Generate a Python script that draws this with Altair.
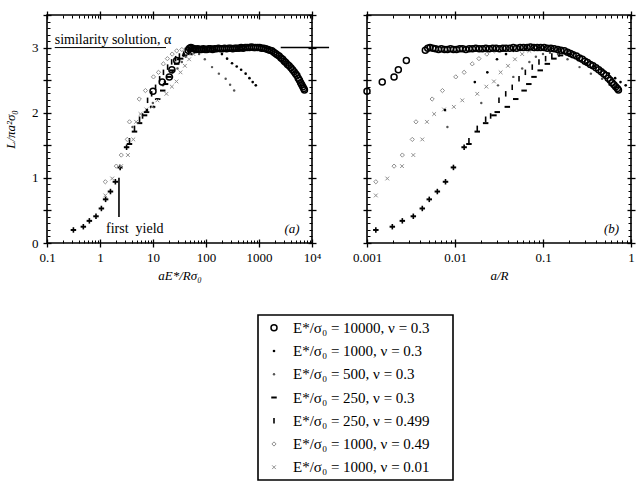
import altair as alt
import pandas as pd

SERIF = "Liberation Serif"

# ---------------- data (x is a/R, y is L/(pi a^2 sigma0)) ----------------
series_names = ["E10000_v0.3", "E1000_v0.3", "E500_v0.3", "E250_v0.3", "E250_v0.499", "E1000_v0.49", "E1000_v0.01"]
E_ratio = [10000, 1000, 500, 250, 250, 1000, 1000]
legend_labels = ["E*/σ₀ = 10000,  ν = 0.3", "E*/σ₀ = 1000,  ν = 0.3", "E*/σ₀ = 500,  ν = 0.3",
                 "E*/σ₀ = 250,  ν = 0.3", "E*/σ₀ = 250,  ν = 0.499", "E*/σ₀ = 1000,  ν = 0.49",
                 "E*/σ₀ = 1000,  ν = 0.01"]

aR_10000 = [0.001, 0.00149, 0.00203, 0.00227, 0.0028, 0.0046, 0.0049, 0.0052, 0.0056, 0.006, 0.0065, 0.007,
            0.0076, 0.0082, 0.0089, 0.0096, 0.0104, 0.0113, 0.0122, 0.0133, 0.0145, 0.0158, 0.0172, 0.0188,
            0.0205, 0.0224, 0.0245, 0.0268, 0.0293, 0.032, 0.035, 0.038, 0.042, 0.046, 0.05, 0.055, 0.06,
            0.066, 0.072, 0.079, 0.086, 0.094, 0.103, 0.112, 0.123, 0.134, 0.147, 0.16, 0.175, 0.19, 0.205,
            0.22, 0.24, 0.26, 0.28, 0.3, 0.32, 0.345, 0.37, 0.4, 0.43, 0.46, 0.49, 0.52, 0.55, 0.58, 0.61,
            0.64, 0.67, 0.7, 0.72]
L_10000 = [2.33, 2.47, 2.55, 2.66, 2.80, 2.96, 2.99, 3.0, 2.99, 2.98, 2.97, 2.98,
           2.97, 2.97, 2.98, 2.97, 2.97, 2.98, 2.98, 2.97, 2.98, 2.98, 2.99, 2.98,
           2.98, 2.99, 2.98, 2.99, 2.99, 2.98, 2.99, 2.99, 2.99, 3.0, 2.99, 3.0, 3.0,
           3.0, 3.01, 3.0, 3.0, 3.0, 3.0, 2.99, 2.99, 2.98, 2.97, 2.96, 2.95, 2.93, 2.91,
           2.89, 2.87, 2.84, 2.82, 2.79, 2.77, 2.74, 2.72, 2.69, 2.66, 2.63, 2.6, 2.57, 2.53, 2.5, 2.46,
           2.43, 2.4, 2.37, 2.35]

aR_1000 = [0.0077, 0.0168, 0.0233, 0.030, 0.038, 0.046, 0.055, 0.065, 0.078, 0.09, 0.105, 0.125, 0.15,
           0.2, 0.25, 0.31, 0.38, 0.46, 0.56, 0.66, 0.76, 0.87]
L_1000 = [2.04, 2.47, 2.62, 2.82, 2.9, 2.95, 2.97, 2.99, 3.0, 3.0, 3.0, 2.99, 2.97,
          2.9, 2.83, 2.76, 2.71, 2.66, 2.6, 2.53, 2.47, 2.42]

aR_500 = [0.0082, 0.0199, 0.0308, 0.046, 0.058, 0.07, 0.083, 0.1, 0.12, 0.148, 0.19, 0.26, 0.35, 0.47, 0.57, 0.68]
L_500 = [1.78, 2.15, 2.42, 2.55, 2.68, 2.78, 2.86, 2.9, 2.92, 2.9, 2.82, 2.7, 2.6, 2.52, 2.43, 2.34]

aR_250a = [0.00126, 0.00194, 0.00252, 0.00336, 0.00425, 0.0051, 0.0063, 0.0078, 0.0096, 0.0127, 0.0144,
           0.0179, 0.0223, 0.0277, 0.0302, 0.0393, 0.049, 0.061, 0.069, 0.079, 0.093, 0.112, 0.133, 0.158, 0.2]
L_250a = [0.2, 0.25, 0.34, 0.41, 0.53, 0.67, 0.79, 0.94, 1.16, 1.47, 1.52,
          1.71, 1.84, 1.96, 2.01, 2.09, 2.21, 2.34, 2.44, 2.55, 2.65, 2.75, 2.83, 2.88, 2.9]

aR_250b = [0.00126, 0.00194, 0.00252, 0.00336, 0.00425, 0.0051, 0.0063, 0.0078, 0.0096, 0.0127, 0.0144,
           0.0179, 0.0223, 0.0254, 0.0316, 0.0377, 0.0447, 0.0534, 0.063, 0.0755, 0.09, 0.107, 0.126, 0.152, 0.189]
L_250b = [0.2, 0.25, 0.34, 0.41, 0.53, 0.67, 0.79, 0.94, 1.16, 1.47, 1.57,
          1.76, 1.9, 1.95, 2.19, 2.29, 2.39, 2.52, 2.62, 2.7, 2.78, 2.83, 2.87, 2.9, 2.93]

aR_1000d = [0.00126, 0.00203, 0.00252, 0.00327, 0.0036, 0.0055, 0.0072, 0.0102, 0.0127, 0.0157, 0.0187,
            0.023, 0.028, 0.035, 0.043, 0.053, 0.065, 0.08, 0.1, 0.12, 0.15]
L_1000d = [0.94, 1.18, 1.35, 1.59, 1.86, 2.21, 2.34, 2.55, 2.62, 2.75, 2.83,
           2.9, 2.95, 2.97, 2.99, 3.0, 3.0, 3.0, 3.0, 2.99, 2.98]

aR_1000x = [0.00126, 0.0017, 0.0025, 0.00336, 0.00425, 0.0048, 0.0058, 0.0075, 0.0097, 0.0121, 0.0179,
            0.0227, 0.0277, 0.033, 0.04, 0.048, 0.058, 0.07, 0.085, 0.1, 0.12, 0.15]
L_1000x = [0.73, 0.99, 1.18, 1.35, 1.59, 1.86, 1.98, 2.05, 2.09, 2.19, 2.29,
           2.4, 2.48, 2.62, 2.72, 2.82, 2.9, 2.95, 2.97, 2.98, 2.98, 2.97]

series_aR = [aR_10000, aR_1000, aR_500, aR_250a, aR_250b, aR_1000d, aR_1000x]
series_L = [L_10000, L_1000, L_500, L_250a, L_250b, L_1000d, L_1000x]

# tick values / labels
xa_major = [0.1, 1, 10, 100, 1000, 10000]
xa_labels = ["0.1", "1", "10", "100", "1000", "10⁴"]
xb_major = [0.001, 0.01, 0.1, 1]
xb_labels = ["0.001", "0.01", "0.1", "1"]
y_major = [0, 0.5, 1, 1.5, 2, 2.5, 3, 3.5]
y_minor = [round(i * 0.1, 1) for i in range(36) if i % 5]
xa_minor = [m * 10.0 ** k for k in range(-1, 4) for m in range(2, 10)]
xb_minor = [m * 10.0 ** k for k in range(-3, 0) for m in range(2, 10)]

# ---------------- styles ----------------
X_PATH = "M-1,-1L1,1M-1,1L1,-1"
STYLE = {
    "E10000_v0.3": dict(shape="circle", size=36, color="black", filled=False, strokeWidth=1.5),
    "E1000_v0.3": dict(shape="circle", size=7, color="black", filled=True),
    "E500_v0.3": dict(shape="circle", size=6, color="#555555", filled=True),
    "E250_v0.3": dict(shape="M-1,0L1,0", size=30, color="black", filled=False, strokeWidth=2),
    "E250_v0.499": dict(shape="M0,-1L0,1", size=30, color="black", filled=False, strokeWidth=1.6),
    "E1000_v0.49": dict(shape="diamond", size=18, color="#8f8f8f", filled=False, strokeWidth=1),
    "E1000_v0.01": dict(shape=X_PATH, size=14, color="#8f8f8f", filled=False, strokeWidth=1),
}
draw_order = ["E250_v0.3", "E250_v0.499", "E1000_v0.49", "E1000_v0.01", "E500_v0.3", "E1000_v0.3", "E10000_v0.3"]

frames = []
for name, E, aR, L in zip(series_names, E_ratio, series_aR, series_L):
    frames.append(pd.DataFrame({"series": name, "aR": aR, "L": L,
                                "xa": [v * E for v in aR]}))
data = pd.concat(frames, ignore_index=True)

yscale = alt.Scale(domain=[0, 3.5], nice=False, zero=False)

AX = dict(labelFont=SERIF, labelFontSize=13, labelColor="black", titleFont=SERIF, titleFontSize=13,
          titleFontWeight="normal", titleFontStyle="italic", titleColor="black", tickColor="black",
          grid=False, domain=False)


def label_expr(labels, first_exp):
    arr = "[" + ",".join("'" + s + "'" for s in labels) + "]"
    return f"{arr}[round(log(datum.value)/LN10) - ({first_exp})]"


def panel(xfield, xscale, xmajor, xlabels, first_exp, xminor, xtitle, ytitle, ylabels):
    layers = []
    for name in draw_order:
        st = STYLE[name]
        layers.append(
            alt.Chart(data[data.series == name]).mark_point(opacity=1, **st).encode(
                x=alt.X(f"{xfield}:Q", scale=xscale, axis=None),
                y=alt.Y("L:Q", scale=yscale, axis=None),
            )
        )
    dummy = alt.Chart(data).mark_point(opacity=0)
    # main axes: crossing major ticks with labels
    layers.append(dummy.encode(
        x=alt.X(f"{xfield}:Q", scale=xscale,
                axis=alt.Axis(orient="bottom", offset=-4, tickSize=8, values=xmajor,
                              labelExpr=label_expr(xlabels, first_exp), labelPadding=4,
                              labelFlush=False, labelOverlap=False, title=xtitle, titlePadding=5,
                              tickWidth=1.3, **AX)),
        y=alt.Y("L:Q", scale=yscale,
                axis=alt.Axis(orient="left", offset=-4, tickSize=8, values=y_major,
                              labels=ylabels,
                              labelExpr="datum.value % 1 == 0 ? format(datum.value, 'd') : ''",
                              labelPadding=5, labelFlush=False, labelOverlap=False,
                              title=ytitle, titlePadding=14, tickWidth=1.3, **AX)),
    ))
    # minor inward ticks bottom / left
    layers.append(dummy.encode(
        x=alt.X(f"{xfield}:Q", scale=xscale,
                axis=alt.Axis(orient="bottom", offset=-3, tickSize=3, values=xminor,
                              labels=False, title=None, **AX)),
        y=alt.Y("L:Q", scale=yscale,
                axis=alt.Axis(orient="left", offset=-3, tickSize=3, values=y_minor,
                              labels=False, title=None, **AX)),
    ))
    # crossing majors top / right
    layers.append(dummy.encode(
        x=alt.X(f"{xfield}:Q", scale=xscale,
                axis=alt.Axis(orient="top", offset=-4, tickSize=8, values=xmajor,
                              labels=False, title=None, tickWidth=1.3, **AX)),
        y=alt.Y("L:Q", scale=yscale,
                axis=alt.Axis(orient="right", offset=-4, tickSize=8, values=y_major,
                              labels=False, title=None, tickWidth=1.3, **AX)),
    ))
    # minor inward ticks top / right
    layers.append(dummy.encode(
        x=alt.X(f"{xfield}:Q", scale=xscale,
                axis=alt.Axis(orient="top", offset=-3, tickSize=3, values=xminor,
                              labels=False, title=None, **AX)),
        y=alt.Y("L:Q", scale=yscale,
                axis=alt.Axis(orient="right", offset=-3, tickSize=3, values=y_minor,
                              labels=False, title=None, **AX)),
    ))
    return layers


xscale_a = alt.Scale(type="log", domain=[0.1, 10000], nice=False)
xscale_b = alt.Scale(type="log", domain=[0.001, 1], nice=False)

layers_a = panel("xa", xscale_a, xa_major, xa_labels, -1, xa_minor, "aE*/Rσ₀", "L/πa²σ₀", True)
layers_b = panel("aR", xscale_b, xb_major, xb_labels, -3, xb_minor, "a/R", None, False)

# annotations in panel (a)
rules_a = pd.DataFrame({"x": [0.14, 2570], "x2": [17.6, 21000], "y": [3.0, 3.0], "w": [1.0, 1.6]})
yield_line = pd.DataFrame({"x": [2.28], "y": [0.40], "y2": [1.0]})
texts_a = pd.DataFrame({"x": [0.14, 1.3], "y": [3.06, 0.15],
                        "t": ["similarity solution, α", "first\u00a0\u00a0yield"]})
tag_a = pd.DataFrame({"x": [4200], "y": [0.15], "t": ["(a)"]})
tag_b = pd.DataFrame({"x": [0.6], "y": [0.15], "t": ["(b)"]})

for i in range(len(rules_a)):
    layers_a.append(alt.Chart(rules_a.iloc[[i]]).mark_rule(color="black", strokeWidth=float(rules_a.w[i])).encode(
        x=alt.X("x:Q", scale=xscale_a, axis=None), x2="x2:Q", y=alt.Y("y:Q", scale=yscale, axis=None)))
layers_a.append(alt.Chart(yield_line).mark_rule(color="black", strokeWidth=1.6).encode(
    x=alt.X("x:Q", scale=xscale_a, axis=None), y=alt.Y("y:Q", scale=yscale, axis=None), y2="y2:Q"))
layers_a.append(alt.Chart(texts_a).mark_text(align="left", baseline="alphabetic", font=SERIF, fontSize=14,
                                             color="black").encode(
    x=alt.X("x:Q", scale=xscale_a, axis=None), y=alt.Y("y:Q", scale=yscale, axis=None), text="t:N"))
layers_a.append(alt.Chart(tag_a).mark_text(align="center", baseline="alphabetic", font=SERIF, fontSize=13,
                                           fontStyle="italic", color="black").encode(
    x=alt.X("x:Q", scale=xscale_a, axis=None), y=alt.Y("y:Q", scale=yscale, axis=None), text="t:N"))
layers_b.append(alt.Chart(tag_b).mark_text(align="center", baseline="alphabetic", font=SERIF, fontSize=13,
                                           fontStyle="italic", color="black").encode(
    x=alt.X("x:Q", scale=xscale_b, axis=None), y=alt.Y("y:Q", scale=yscale, axis=None), text="t:N"))

panel_a = alt.layer(*layers_a).resolve_axis(x="independent", y="independent").properties(width=265, height=228)
panel_b = alt.layer(*layers_b).resolve_axis(x="independent", y="independent").properties(width=264, height=228)

# ---------------- legend box ----------------
leg_rows = pd.DataFrame({"row": list(range(len(series_names))), "label": legend_labels, "series": series_names})
rowscale = alt.Scale(type="point", domain=list(range(len(series_names))), padding=0.55)
leg_layers = []
for i, name in enumerate(series_names):
    leg_layers.append(alt.Chart(leg_rows.iloc[[i]]).mark_point(opacity=1, **STYLE[name]).encode(
        x=alt.value(16), y=alt.Y("row:O", scale=rowscale, axis=None)))
leg_layers.append(alt.Chart(leg_rows).mark_text(align="left", baseline="middle", font=SERIF, fontSize=15,
                                                color="black").encode(
    x=alt.value(35), y=alt.Y("row:O", scale=rowscale, axis=None), text="label:N"))
legend = alt.layer(*leg_layers).properties(width=195, height=165)

spacer = alt.Chart(pd.DataFrame({"v": [0]})).mark_point(opacity=0).encode(
    x=alt.value(0), y=alt.value(0)).properties(width=209, height=165,
                                                view=alt.ViewBackground(stroke="transparent"))

top = alt.hconcat(panel_a, panel_b, spacing=55, bounds="flush")
bottom = alt.hconcat(spacer, legend, spacing=0)

chart = alt.vconcat(top, bottom, spacing=28).properties(
    padding={"left": 3, "top": 8, "right": 0, "bottom": 0}, background="white"
).configure_view(stroke="black", strokeWidth=1.6)

chart.save("out.html", embed_options={"renderer": "svg", "actions": False})
